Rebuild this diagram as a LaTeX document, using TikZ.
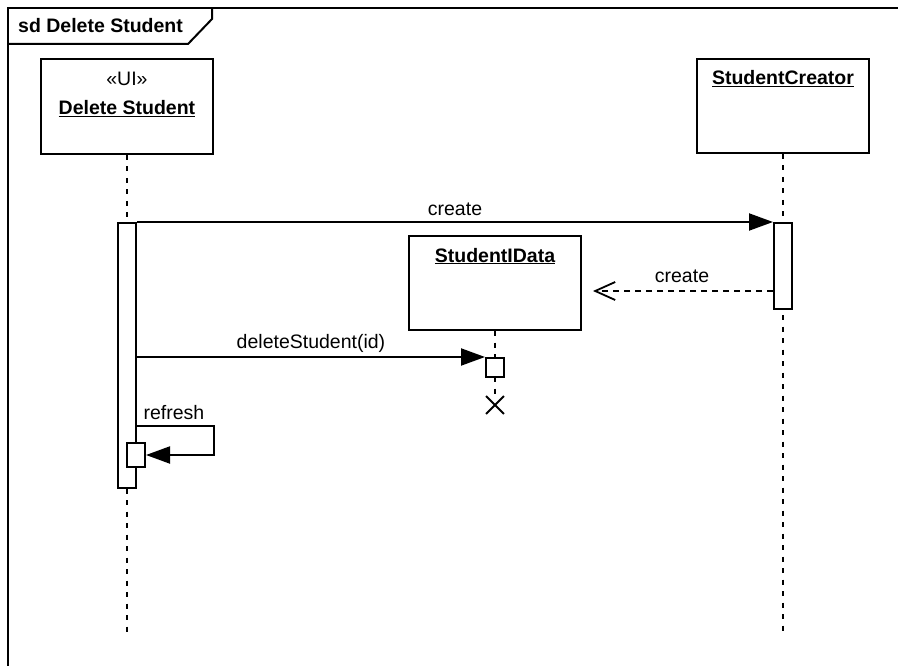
\documentclass[tikz,border=0pt]{standalone}
\usepackage{fontspec}
\setmainfont{Liberation Sans}
\usetikzlibrary{arrows.meta,shapes.misc}
% underline with a rule a little below the baseline
\newcommand\uln[1]{\setbox0\hbox{#1}\rlap{\rule[-2.4pt]{\wd0}{1.6pt}}\box0}
\tikzset{
  lw/.style={line width=2pt},
  objbox/.style={lw, draw, fill=white, rectangle, minimum width=172pt, minimum height=94pt, inner sep=0pt},
  actbox/.style={lw, draw, fill=white, rectangle, inner sep=0pt},
  lifeline/.style={line width=2pt, dash pattern=on 5pt off 6.5pt},
  lbl/.style={font=\fontsize{19.5}{23}\selectfont, inner sep=0pt, anchor=base},
  boldlbl/.style={lbl, font=\fontsize{19.5}{23}\selectfont\bfseries},
  syncmsg/.style={lw, -{Triangle[length=24pt,width=17pt]}},
  retmsg/.style={lw, dashed, dash pattern=on 6pt off 5pt, -{Straight Barb[length=20pt,width=18pt,line width=1.8pt]}},
}
\begin{document}
\begin{tikzpicture}[x=1pt,y=-1pt]
\useasboundingbox (0,0) rectangle (898,666);

% frame and its name tab
\draw[lw] (898,8) -- (8,8) -- (8,666);
\draw[lw] (8,44) -- (188,44) -- (212,19) -- (212,8);
\node[boldlbl, anchor=base west] (title) at (18,33) {sd Delete Student};

% lifeline heads
\node[objbox, minimum height=95pt] (ui) at (127,106.5) {};
\node[objbox] (sc) at (783,106) {};
\node[objbox] (data) at (495,283) {};
\node[lbl] (uistereo) at (127,86) {«UI»};
\node[boldlbl] (uiname) at (127,115) {\uln{Delete Student}};
\node[boldlbl] (scname) at (783,85) {\uln{StudentCreator}};
\node[boldlbl] (dataname) at (495,262) {\uln{StudentIData}};

% lifelines
\coordinate (uiend) at (127,635);
\coordinate (scend) at (783,635);
\coordinate (dataend) at (495,397);
\draw[lifeline] (ui.south) -- (uiend);
\draw[lifeline] (sc.south) -- (scend);
\draw[lifeline] (data.south) -- (dataend);

% activations
\node[actbox, minimum width=18pt, minimum height=265pt] (uiact) at (127,355.5) {};
\node[actbox, minimum width=18pt, minimum height=86pt] (scact) at (783,266) {};
\node[actbox, minimum width=18pt, minimum height=19pt] (delact) at (495,367.5) {};
\node[actbox, minimum width=18pt, minimum height=24pt] (refact) at (136,455) {};

% destruction mark
\node[draw, cross out, line width=1.8pt, minimum size=16pt, inner sep=0pt] (destroy) at (495,405) {};

% messages
\draw[syncmsg] (uiact.north east) -- (scact.north west);
\node[lbl] (m1) at (455,215) {create};

\coordinate (rettip) at (593,291);
\draw[retmsg] (scact.west |- rettip) -- (rettip);
\node[lbl] (m2) at (682,283) {create};

\draw[syncmsg] (uiact.east |- delact.north) -- (delact.north west);
\node[lbl] (m3) at (311,348) {deleteStudent(id)};

\coordinate (loopcorner) at (214,426);
\draw[syncmsg] (uiact.east |- loopcorner) -- (loopcorner) |- (refact.east);
\node[lbl] (m4) at (174,419) {refresh};
\end{tikzpicture}
\end{document}
